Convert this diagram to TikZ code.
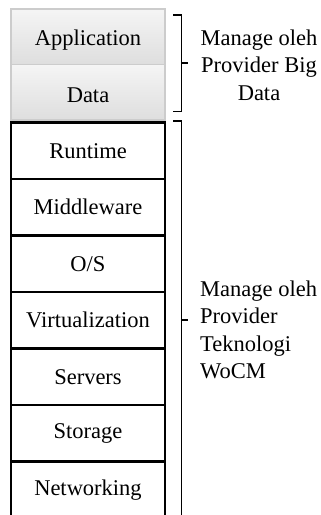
\documentclass[tikz,border=0pt]{standalone}
\usepackage{fontspec}
\setmainfont{Liberation Serif}
\begin{document}
\begin{tikzpicture}[x=1pt,y=-1pt,
  txt/.style={font=\fontsize{22.5}{27.5}\selectfont},
  layer/.style={txt,draw=black,line width=2.4pt,minimum width=154pt,minimum height=56.5pt,inner sep=0pt},
  toplayer/.style={draw=gray!40,line width=1.2pt,top color=gray!8,bottom color=gray!26,minimum width=154pt,minimum height=55.5pt,inner sep=0pt},
  brace/.style={line width=1.4pt},
  note/.style={txt,inner sep=0pt}]
\useasboundingbox (0,0) rectangle (321,515);
\clip (0,0) rectangle (321,515);

% layers managed by the big data provider
\node[toplayer] (app)  at (88,36.75) {};
\node[toplayer] (data) at (88,92.25) {};
\node[txt] (apptxt)  at ([yshift=-3pt]app.center) {Application};
\node[txt] (datatxt) at ([yshift=-3pt]data.center) {Data};

% layers managed by the technology provider
\foreach \name/\lbl [count=\i from 0] in {run/Runtime,mid/Middleware,os/{O/S},virt/Virtualization,srv/Servers,sto/Storage,net/Networking}{
  \node[layer] (\name) at (88,{150.75+56.5*\i}) {\lbl};
}

% brackets
\coordinate (b1a) at (173,15);
\coordinate (b1b) at (181.5,15);
\coordinate (b1c) at (181.5,111.5);
\coordinate (b1d) at (173,111.5);
\coordinate (b1m) at (181.5,63);
\coordinate (b1t) at (188,63);
\draw[brace] (b1a) -- (b1b) -- (b1c) -- (b1d);
\draw[brace] (b1m) -- (b1t);

\coordinate (b2a) at (173,121);
\coordinate (b2b) at (181.5,121);
\coordinate (b2c) at (181.5,520);
\coordinate (b2m) at (181.5,320);
\coordinate (b2t) at (188,320);
\draw[brace] (b2a) -- (b2b) -- (b2c);
\draw[brace] (b2m) -- (b2t);

% labels
\node[note,align=center] (lbl1) at (259,65) {Manage oleh\\Provider Big\\Data};
\node[note,align=left,anchor=west] (lbl2) at (200,330) {Manage oleh\\Provider\\Teknologi\\WoCM};
\end{tikzpicture}
\end{document}
